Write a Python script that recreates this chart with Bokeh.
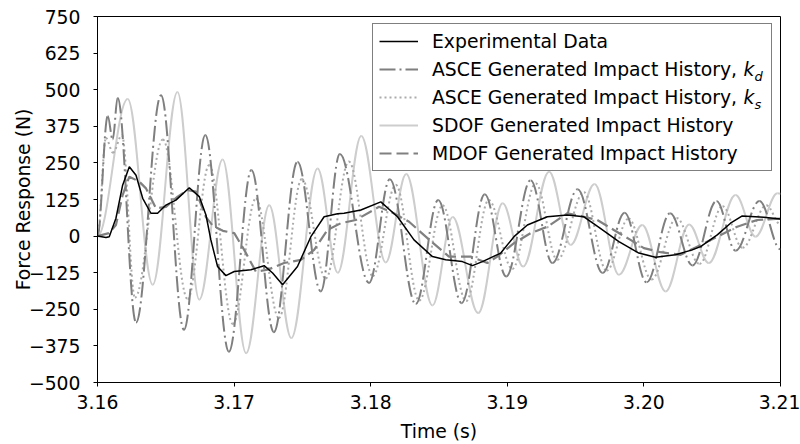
import numpy as np
from bokeh.plotting import figure
from bokeh.models import (Legend, LegendItem, FixedTicker, NumeralTickFormatter,
                          Range1d, ColumnDataSource, Label)
from bokeh.embed import file_html
from bokeh.resources import INLINE

# ---------------- data ----------------
exp_t = [3.16000, 3.16062, 3.16086, 3.16135, 3.16184, 3.16233, 3.16282, 3.16331, 3.16391,
         3.16440, 3.16501, 3.16574, 3.16672, 3.16745, 3.16794, 3.16830, 3.16879, 3.16940,
         3.17001, 3.17123, 3.17220, 3.17282, 3.17355, 3.17464, 3.17562, 3.17659, 3.17757,
         3.17805, 3.17928, 3.18074, 3.18196, 3.18317, 3.18452, 3.18549, 3.18671, 3.18745,
         3.18818, 3.18952, 3.19049, 3.19147, 3.19293, 3.19440, 3.19561, 3.19671, 3.19817,
         3.19963, 3.20085, 3.20232, 3.20354, 3.20415, 3.20537, 3.20634, 3.20720, 3.20878,
         3.21000]
exp_y = [0, -5, -2, 61, 174, 237, 208, 129, 78,
         78, 106, 123, 165, 135, 72, -13, -104, -135,
         -121, -115, -101, -126, -166, -104, -2, 66, 76,
         78, 89, 117, 66, -13, -70, -81, -87, -101,
         -87, -58, -2, 38, 66, 72, 66, 30, -19,
         -58, -72, -64, -47, -36, 4, 44, 69, 64,
         58]

# ASCE k_d (dash-dot): successive peaks / troughs
kd_t = [3.16000, 3.16075, 3.16111, 3.16148, 3.16282, 3.16465, 3.16633, 3.16789, 3.16962,
        3.17127, 3.17291, 3.17464, 3.17635, 3.17774, 3.17988, 3.18140, 3.18330, 3.18494,
        3.18666, 3.18835, 3.18992, 3.19171, 3.19330, 3.19515, 3.19698, 3.19859, 3.20020,
        3.20192, 3.20356, 3.20532, 3.20671, 3.20846, 3.21000]
kd_y = [0, 410, 330, 472, -295, 481, -320, 345, -395,
        226, -328, 254, -189, 280, -160, 194, -232, 123,
        -229, 143, -138, 191, -92, 160, -126, 80, -158,
        78, -100, 120, -50, 120, -45]

# ASCE k_s (dotted): successive peaks / troughs
ks_t = [3.16000, 3.16062, 3.16113, 3.16179, 3.16274, 3.16479, 3.16660, 3.16818, 3.16991,
        3.17159, 3.17328, 3.17496, 3.17671, 3.17840, 3.18015, 3.18184, 3.18355, 3.18527,
        3.18699, 3.18864, 3.19037, 3.19208, 3.19366, 3.19561, 3.19727, 3.19888, 3.20056,
        3.20239, 3.20407, 3.20576, 3.20722, 3.20897, 3.21000]
ks_y = [0, 335, 285, 345, -210, 330, -215, 243, -300,
        128, -280, 195, -145, 255, -136, 175, -220, 105,
        -222, 123, -112, 180, -81, 150, -118, 60, -148,
        62, -95, 102, -40, 105, 40]

# SDOF (light solid): successive peaks / troughs
sdof_t = [3.16000, 3.16221, 3.16404, 3.16585, 3.16745, 3.16916, 3.17088, 3.17257, 3.17419,
          3.17611, 3.17759, 3.17931, 3.18110, 3.18260, 3.18452, 3.18600, 3.18787, 3.18966,
          3.19116, 3.19306, 3.19464, 3.19639, 3.19817, 3.19988, 3.20159, 3.20331, 3.20475,
          3.20671, 3.20817, 3.20978, 3.21000]
sdof_y = [0, 468, -166, 492, -217, 262, -400, 105, -348,
          231, -125, 342, -90, 212, -237, 65, -263, 112,
          -104, 220, -30, 178, -132, 38, -189, 40, -92,
          140, -2, 146, 145]

# MDOF (dashed)
mdof_t = [3.16000, 3.16084, 3.16135, 3.16184, 3.16233, 3.16306, 3.16355, 3.16428, 3.16501,
          3.16587, 3.16660, 3.16721, 3.16794, 3.16845, 3.16918, 3.17001, 3.17074, 3.17159,
          3.17245, 3.17366, 3.17489, 3.17586, 3.17684, 3.17781, 3.17891, 3.18061, 3.18162,
          3.18281, 3.18403, 3.18573, 3.18732, 3.18854, 3.18927, 3.19049, 3.19171, 3.19293,
          3.19440, 3.19561, 3.19659, 3.19780, 3.19902, 3.20000, 3.20122, 3.20269, 3.20390,
          3.20537, 3.20683, 3.20829, 3.21000]
mdof_y = [0, 10, 38, 140, 203, 186, 163, 95, 100,
          135, 157, 152, 65, 35, 18, 10, -47, -121,
          -115, -92, -81, -47, 21, 44, 55, 100, 80,
          49, -2, -70, -70, -92, -70, -24, 10, 32,
          78, 66, 55, 21, -13, -41, -55, -64, -36,
          -2, 32, 55, 60]

x_ticks = [3.16, 3.17, 3.18, 3.19, 3.20, 3.21]
y_ticks = [-500, -375, -250, -125, 0, 125, 250, 375, 500, 625, 750]

labels = ["Experimental Data",
          "ASCE Generated Impact History,",
          "ASCE Generated Impact History,",
          "SDOF Generated Impact History",
          "MDOF Generated Impact History"]
subscripts = ["d", "s"]

# ---------------- figure ----------------
FONT = "DejaVu Sans"
FS = "18.8px"
p = figure(width=800, height=444, output_backend="svg", toolbar_location=None,
           x_range=Range1d(3.16, 3.21), y_range=Range1d(-500, 750),
           min_border_left=97, min_border_right=20, min_border_top=16, min_border_bottom=61)
p.xgrid.visible = False
p.ygrid.visible = False
p.outline_line_color = "black"
p.outline_line_width = 1
p.background_fill_color = "white"
p.border_fill_color = "white"

for ax in (p.xaxis[0], p.yaxis[0]):
    ax.axis_line_color = "black"
    ax.major_tick_line_color = "black"
    ax.minor_tick_line_color = None
    ax.major_tick_in = 0
    ax.major_tick_out = 4
    ax.major_label_text_font = FONT
    ax.major_label_text_font_size = FS
    ax.major_label_text_color = "black"
    ax.axis_label_text_font = FONT
    ax.axis_label_text_font_size = FS
    ax.axis_label_text_font_style = "normal"
    ax.axis_label_text_color = "black"

p.xaxis.ticker = FixedTicker(ticks=x_ticks)
p.xaxis.formatter = NumeralTickFormatter(format="0.00")
p.yaxis.ticker = FixedTicker(ticks=y_ticks)
p.xaxis.axis_label = "Time (s)"
p.yaxis.axis_label = "Force Response (N)"
p.xaxis.major_label_standoff = 8
p.yaxis.major_label_standoff = 13
p.xaxis.axis_label_standoff = 9
p.yaxis.axis_label_standoff = -8


def smooth(t, y, **kw):
    t = np.asarray(t, dtype=float)
    y = np.asarray(y, dtype=float)
    d = np.diff(t)
    src = ColumnDataSource(dict(x0=t[:-1], y0=y[:-1], x1=t[1:], y1=y[1:],
                                cx0=t[:-1] + 0.364 * d, cy0=y[:-1],
                                cx1=t[1:] - 0.364 * d, cy1=y[1:]))
    return p.bezier(x0="x0", y0="y0", x1="x1", y1="y1", cx0="cx0", cy0="cy0",
                    cx1="cx1", cy1="cy1", source=src, **kw)


sty_kd = dict(line_color="#7f7f7f", line_width=2, line_dash="16 4 2 4")
sty_ks = dict(line_color="#ababab", line_width=2, line_dash="2 3")
sty_sd = dict(line_color="#cdcdcd", line_width=2)
sty_md = dict(line_color="#808080", line_width=2.2, line_dash="12 5")
sty_ex = dict(line_color="black", line_width=1.5)

r_sd = smooth(sdof_t, sdof_y, **sty_sd)
r_ks = smooth(ks_t, ks_y, **sty_ks)
r_kd = smooth(kd_t, kd_y, **sty_kd)
r_md = p.line(mdof_t, mdof_y, **sty_md)
r_ex = p.line(exp_t, exp_y, **sty_ex)

renderers = [r_ex, r_kd, r_ks, r_sd, r_md]
legend = Legend(items=[LegendItem(label=l, renderers=[r]) for l, r in zip(labels, renderers)],
                location=(275, 211))
legend.label_text_font = FONT
legend.label_text_font_size = FS
legend.label_text_color = "black"
legend.glyph_width = 39
legend.glyph_height = 22
legend.label_height = 22
legend.label_width = 333
legend.spacing = 6
legend.label_standoff = 14
legend.padding = 6
legend.margin = 0
legend.border_line_color = "black"
legend.border_line_width = 1
legend.background_fill_alpha = 0.0
p.add_layout(legend, "center")

# italic k with subscript after the two ASCE entries (screen units, frame-relative)
for i, sub in enumerate(subscripts):
    yc = 313 - 28 * i
    p.add_layout(Label(x=646, y=yc, x_units="screen", y_units="screen", text="k",
                       text_font=FONT, text_font_size=FS, text_font_style="italic",
                       text_baseline="middle", text_color="black"))
    p.add_layout(Label(x=657, y=yc - 6.5, x_units="screen", y_units="screen", text=sub,
                       text_font=FONT, text_font_size="13px", text_font_style="italic",
                       text_baseline="middle", text_color="black"))

open("out.html", "w").write(file_html(p, INLINE))
